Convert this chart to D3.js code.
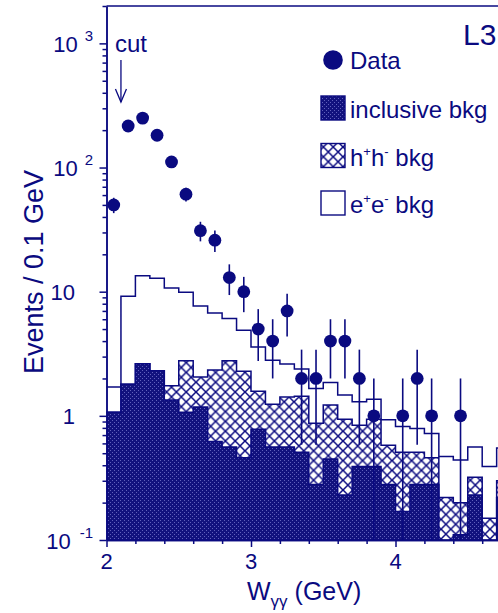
<!DOCTYPE html>
<html>
<head>
<meta charset="utf-8">
<script src="https://cdn.jsdelivr.net/npm/d3@7"></script>
<style>
  body { margin: 0; background: #fff; }
  text { font-family: "Liberation Sans", Arial, Helvetica, sans-serif; fill: #0a0a80; }
</style>
</head>
<body>
<svg id="chart" width="498" height="613"></svg>
<script>
// Lower edges of the 0.1 GeV bins (GeV)
const binLow = [2.0, 2.1, 2.2, 2.3, 2.4, 2.5, 2.6, 2.7, 2.8, 2.9,
                3.0, 3.1, 3.2, 3.3, 3.4, 3.5, 3.6, 3.7, 3.8, 3.9,
                4.0, 4.1, 4.2, 4.3, 4.4, 4.5, 4.6, 4.7];
const binWidth = 0.1;

// Background components per bin (stacked: inclusive, then h+h-, then e+e-)
const inclusiveBkg = [1.07, 1.80, 2.63, 2.31, 1.34, 1.07, 1.18, 0.62, 0.56, 0.46,
                      0.78, 0.56, 0.56, 0.51, 0.28, 0.45, 0.23, 0.39, 0.39, 0.28,
                      0.17, 0.28, 0.28, 0.00, 0.11, 0.23, 0.00, 0.22];
const hhBkg        = [0.00, 0.00, 0.00, 0.00, 0.41, 1.71, 0.88, 1.72, 2.22, 1.83,
                      0.80, 0.68, 0.86, 0.93, 0.59, 0.77, 0.71, 0.45, 0.55, 0.30,
                      0.34, 0.23, 0.18, 0.22, 0.09, 0.09, 0.15, 0.08];
const eeBkg        = [0.64, 7.40, 10.8, 10.5, 8.95, 7.10, 5.60, 4.40, 3.30, 2.60,
                      2.00, 1.57, 1.19, 0.94, 0.79, 0.64, 0.53, 0.46, 0.42, 0.35,
                      0.31, 0.28, 0.26, 0.25, 0.24, 0.24, 0.24, 0.25];

// Observed events (bin centres, counts)
const dataCenters = [2.05, 2.15, 2.25, 2.35, 2.45, 2.55, 2.65, 2.75, 2.85, 2.95,
                     3.05, 3.15, 3.25, 3.35, 3.45, 3.55, 3.65, 3.75, 3.85, 3.95,
                     4.05, 4.15, 4.25, 4.35, 4.45];
const dataCounts  = [50, 216, 250, 182, 111, 61, 31, 26, 13, 10,
                     5, 4, 7, 2, 2, 4, 4, 2, 1, 0,
                     1, 2, 1, 0, 1];

const xMajorTicks = [2, 3, 4, 5];
const xLabelTicks = [2, 3, 4];
const xTickLabels = ["2", "3", "4"];
const yMajorTicks = [0.1, 1, 10, 100, 1000];
const yTickExponents = ["-1", null, null, "2", "3"];
const yTickMantissas = ["10", "1", "10", "10", "10"];

const navy = "#0a0a80";
const svg = d3.select("#chart");

const x = d3.scaleLinear().domain([2, 5]).range([106.5, 540]);
const y = d3.scaleLog().domain([0.1, 2000]).range([540, 6]).clamp(true);
const yv = v => y(Math.max(v, 1e-4));

// Fill patterns
const defs = svg.append("defs");
const dense = defs.append("pattern").attr("id", "densePat")
  .attr("patternUnits", "userSpaceOnUse").attr("width", 4).attr("height", 4);
dense.append("rect").attr("width", 4).attr("height", 4).attr("fill", "#12127e");
dense.append("rect").attr("x", 0).attr("y", 0).attr("width", 1).attr("height", 1).attr("fill", "#6060bc");
dense.append("rect").attr("x", 2).attr("y", 2).attr("width", 1).attr("height", 1).attr("fill", "#6060bc");

const hs = 9.8;
const cross = defs.append("pattern").attr("id", "crossPat")
  .attr("patternUnits", "userSpaceOnUse").attr("width", hs).attr("height", hs);
cross.append("rect").attr("width", hs).attr("height", hs).attr("fill", "#fff");
cross.append("path")
  .attr("d", `M0,0L${hs},${hs}M0,${hs}L${hs},0M-1,1L1,-1M${hs-1},${hs+1}L${hs+1},${hs-1}`)
  .attr("stroke", navy).attr("stroke-width", 1.5);

// Stacked histogram
const rows = binLow.map((lo, i) => ({lo, inc: inclusiveBkg[i], hh: hhBkg[i], ee: eeBkg[i]}));
const stack = d3.stack().keys(["inc", "hh", "ee"])(rows);

function stepPoints(layer) {
  const pts = [];
  layer.forEach((d, i) => {
    pts.push([binLow[i], d[1]]);
    pts.push([binLow[i] + binWidth, d[1]]);
  });
  return pts;
}
const area = d3.area().x(d => x(d[0])).y0(y(0.1)).y1(d => yv(d[1]));
const line = d3.line().x(d => x(d[0])).y(d => yv(d[1]));

const fills = {inc: "url(#densePat)", hh: "url(#crossPat)", ee: "#fff"};
const hist = svg.append("g");
[stack[2], stack[1], stack[0]].forEach(layer => {
  const pts = stepPoints(layer);
  hist.append("path").attr("d", area(pts)).attr("fill", fills[layer.key]);
  hist.append("path").attr("d", line(pts)).attr("fill", "none")
    .attr("stroke", navy).attr("stroke-width", 1.5);
});

// Data with Poisson errors
const pts = dataCenters.map((c, i) => ({c, n: dataCounts[i]})).filter(d => d.n > 0);
const dataG = svg.append("g");
dataG.selectAll("line").data(pts).join("line")
  .attr("x1", d => x(d.c)).attr("x2", d => x(d.c))
  .attr("y1", d => yv(d.n + Math.sqrt(d.n)))
  .attr("y2", d => yv(d.n - Math.sqrt(d.n)))
  .attr("stroke", navy).attr("stroke-width", 1.6);
dataG.selectAll("circle").data(pts).join("circle")
  .attr("cx", d => x(d.c)).attr("cy", d => y(d.n)).attr("r", 6.4).attr("fill", navy);

// Axes
const axisStyle = g => {
  g.selectAll("path, line").attr("stroke", navy).attr("stroke-width", 1.5);
  g.selectAll("text").remove();
};
const yMinor = [];
for (let e = -1; e <= 3; e++) for (let m = 2; m <= 9; m++) {
  const v = m * Math.pow(10, e);
  if (v <= 2000) yMinor.push(v);
}
svg.append("g").attr("transform", `translate(${x(2)},0)`)
  .call(d3.axisLeft(y).tickValues(yMinor).tickSize(4).tickSizeOuter(0)).call(axisStyle);
svg.append("g").attr("transform", `translate(${x(2)},0)`)
  .call(d3.axisLeft(y).tickValues(yMajorTicks).tickSize(7).tickSizeOuter(0)).call(axisStyle);

const xMinor = d3.range(2.2, 5, 0.2).filter(v => Math.abs(v - Math.round(v)) > 1e-6);
svg.append("g").attr("transform", `translate(0,${y(0.1)})`)
  .call(d3.axisBottom(x).tickValues(xMinor).tickSize(4).tickSizeOuter(0)).call(axisStyle);
svg.append("g").attr("transform", `translate(0,${y(0.1)})`)
  .call(d3.axisBottom(x).tickValues(xMajorTicks).tickSize(7).tickSizeOuter(0)).call(axisStyle);
// top frame line
svg.append("line").attr("x1", x(2)).attr("x2", x(5)).attr("y1", y(2000)).attr("y2", y(2000))
  .attr("stroke", navy).attr("stroke-width", 1.5);

// Tick labels
xLabelTicks.forEach((v, i) => {
  svg.append("text").attr("x", x(v)).attr("y", 569).attr("text-anchor", "middle")
    .attr("font-size", 22).text(xTickLabels[i]);
});
yMajorTicks.forEach((v, i) => {
  const exp = yTickExponents[i];
  const t = svg.append("text").attr("text-anchor", "end").attr("font-size", 22)
    .attr("y", y(v) + 8.6).attr("x", exp ? 93 : 75);
  t.append("tspan").text(yTickMantissas[i]);
  if (exp) t.append("tspan").attr("dx", exp.length > 1 ? 9 : 7).attr("dy", -11)
    .attr("font-size", 15).text(exp);
});

// Axis titles
const xt = svg.append("text").attr("x", 247).attr("y", 600).attr("font-size", 25);
xt.append("tspan").text("W");
xt.append("tspan").attr("dy", 7).attr("font-size", 17).text("γγ");
xt.append("tspan").attr("dy", -7).text(" (GeV)");

svg.append("text").attr("transform", "translate(43,272) rotate(-90)")
  .attr("text-anchor", "middle").attr("font-size", 27).text("Events / 0.1 GeV");

// Cut marker
const cx = x(2.1);
svg.append("text").attr("x", 115).attr("y", 52).attr("font-size", 24).text("cut");
svg.append("line").attr("x1", cx).attr("x2", cx).attr("y1", 60).attr("y2", 102)
  .attr("stroke", navy).attr("stroke-width", 1.3);
svg.append("path").attr("d", `M${cx - 5.5},89L${cx},102L${cx + 5.5},89`)
  .attr("fill", "none").attr("stroke", navy).attr("stroke-width", 1.3);

// Experiment label
svg.append("text").attr("x", 463).attr("y", 45).attr("font-size", 30).text("L3");

// Legend
const lg = svg.append("g");
lg.append("circle").attr("cx", 333).attr("cy", 60).attr("r", 9.8).attr("fill", navy);
lg.append("text").attr("x", 350).attr("y", 68.5).attr("font-size", 24).text("Data");

const boxes = [
  {y: 96, fill: "url(#densePat)"},
  {y: 143.5, fill: "url(#crossPat)"},
  {y: 191, fill: "#fff"}
];
boxes.forEach(b => {
  lg.append("rect").attr("x", 321).attr("y", b.y).attr("width", 24).attr("height", 24)
    .attr("fill", b.fill).attr("stroke", navy).attr("stroke-width", 1.4);
});
lg.append("text").attr("x", 350).attr("y", 117.5).attr("font-size", 24).text("inclusive bkg");

function pairLabel(yb, p) {
  const t = lg.append("text").attr("x", 350).attr("y", yb).attr("font-size", 24);
  t.append("tspan").text(p);
  t.append("tspan").attr("dy", -10).attr("font-size", 13).text("+");
  t.append("tspan").attr("dy", 10).text(p);
  t.append("tspan").attr("dy", -10).attr("font-size", 13).text("-");
  t.append("tspan").attr("dy", 10).text(" bkg");
}
pairLabel(165.5, "h");
pairLabel(213, "e");
</script>
</body>
</html>
